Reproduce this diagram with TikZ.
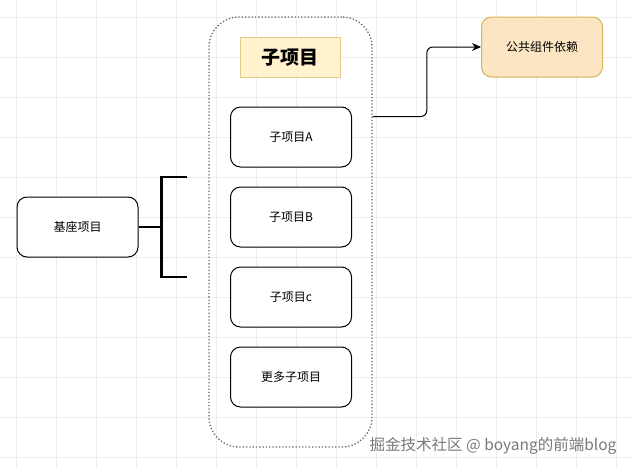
\documentclass[tikz,border=0pt]{standalone}
\usepackage{fontspec}
\setmainfont{Noto Sans CJK SC}
\usetikzlibrary{arrows.meta,calc}
\definecolor{gridc}{HTML}{EDEDED}
\definecolor{titlefill}{HTML}{FFF2CC}
\definecolor{titledraw}{HTML}{E0CB8A}
\definecolor{commfill}{HTML}{FCE5C3}
\definecolor{commdraw}{HTML}{D6B656}
\definecolor{wm}{HTML}{7A7A7A}
\tikzset{
  subbox/.style={draw=black, line width=1pt, rounded corners=10pt, minimum width=121pt, minimum height=60pt, font=\fontsize{12}{14}\selectfont, fill=white},
  contbox/.style={draw=black!60, dotted, line width=1.3pt, rounded corners=30pt, minimum width=163pt, minimum height=430pt},
  conn/.style={line width=1pt, rounded corners=6pt, -{Stealth[length=9pt,width=8pt]}},
  brk/.style={line width=2.4pt},
}
\begin{document}
\begin{tikzpicture}[x=1pt,y=-1pt]
\useasboundingbox (0,0) rectangle (632,469);
\fill[white] (0,0) rectangle (632,469);
\foreach \i in {0,...,15} { \draw[gridc, line width=0.8pt] (16.7+40*\i,0) -- (16.7+40*\i,469); }
\foreach \j in {0,...,11} { \draw[gridc, line width=0.8pt] (0,17+40*\j) -- (632,17+40*\j); }
\node[contbox] (cont) at (290.5,232) {};
\node[fill=titlefill, draw=titledraw, line width=0.8pt, minimum width=100pt, minimum height=40pt, font=\fontsize{19}{22}\selectfont\bfseries] (title) at (290,57.5) {子项目};
\node[subbox] (subA) at (291,137) {子项目A};
\node[subbox] (subB) at (291,217) {子项目B};
\node[subbox] (subC) at (291,297) {子项目c};
\node[subbox] (subD) at (291,377) {更多子项目};
\node[subbox] (base) at (77.5,227) {基座项目};
\node[draw=commdraw, fill=commfill, line width=1pt, rounded corners=10pt, minimum width=121pt, minimum height=60pt, font=\fontsize{12}{14}\selectfont] (common) at (542,47) {公共组件依赖};
\coordinate (cout) at ($(cont.east |- subA.north)+(0,10)$);
\coordinate (turn) at ($(cont.east)!0.5!(common.west)$);
\draw[conn] (cout) -| (turn |- common.west) -- (common.west);
\coordinate (bmid) at (161.5,227);
\coordinate (btop) at (187,177);
\coordinate (bbot) at (187,277);
\draw[brk] (base.east) -- (bmid);
\draw[brk] (btop) -- (bmid |- btop) -- (bmid |- bbot) -- (bbot);
\node[text=wm, font=\fontsize{15.5}{18}\selectfont, anchor=east] (wmark) at (620,446) {掘金技术社区 @ boyang的前端blog};
\end{tikzpicture}
\end{document}
